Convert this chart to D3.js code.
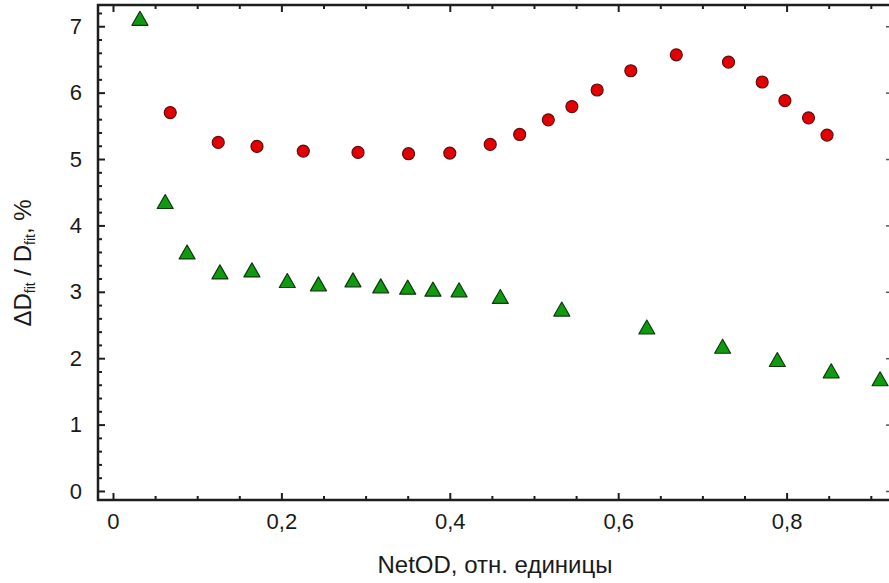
<!DOCTYPE html>
<html>
<head>
<meta charset="utf-8">
<script src="https://cdn.jsdelivr.net/npm/d3@7"></script>
<style>
  body { margin: 0; background: #fff; }
  text { font-family: "Liberation Sans", Arial, sans-serif; fill: #1a1a1a; }
</style>
</head>
<body>
<div id="chart"></div>
<script>
// red circles
var circleX = [0.068, 0.125, 0.171, 0.226, 0.291, 0.351, 0.400, 0.448, 0.483, 0.517, 0.545, 0.575, 0.615, 0.669, 0.731, 0.771, 0.798, 0.826, 0.848]
var circleY = [5.70, 5.25, 5.19, 5.12, 5.10, 5.08, 5.09, 5.22, 5.37, 5.59, 5.79, 6.04, 6.33, 6.57, 6.46, 6.16, 5.88, 5.62, 5.36]

// green triangles
var triX = [0.032, 0.062, 0.088, 0.127, 0.165, 0.207, 0.244, 0.285, 0.318, 0.350, 0.380, 0.411, 0.460, 0.533, 0.634, 0.724, 0.789, 0.853, 0.911]
var triY = [7.12, 4.36, 3.60, 3.30, 3.33, 3.17, 3.12, 3.18, 3.09, 3.07, 3.04, 3.03, 2.93, 2.74, 2.47, 2.18, 1.98, 1.81, 1.69]

var xTicks = [0, 0.2, 0.4, 0.6, 0.8]
var yTicks = [0, 1, 2, 3, 4, 5, 6, 7]
var xLabel = 'NetOD, отн. единицы'

var width = 889
var height = 583
var plot = {left: 98, right: 890, top: 5, bottom: 500}

var x = d3.scaleLinear().domain([-0.0178, 0.9228]).range([plot.left, plot.right])
var y = d3.scaleLinear().domain([-0.136, 7.32]).range([plot.bottom, plot.top])

var ru = d3.formatLocale({decimal: ',', thousands: ' ', grouping: [3], currency: ['', '']})
var fmt = function (d) { return d === 0 ? '0' : ru.format('.1f')(d) }

var svg = d3.select('#chart').append('svg')
    .attr('width', width)
    .attr('height', height)

var ink = '#1e1e1e'

// minor ticks
var xMinor = d3.range(0, 0.92, 0.05).filter(v => xTicks.indexOf(Math.round(v * 100) / 100) < 0)
var yMinor = d3.range(0, 7.3, 0.2).filter(v => Math.abs(v - Math.round(v)) > 0.01)

// bottom axis
svg.append('g')
    .attr('transform', 'translate(0,' + plot.bottom + ')')
    .call(d3.axisBottom(x).tickValues(xTicks).tickFormat(fmt).tickSizeInner(-7).tickSizeOuter(0).tickPadding(13))
    .call(g => g.select('.domain').remove())
    .call(g => g.selectAll('.tick line').attr('stroke', ink).attr('stroke-width', 2))
    .call(g => g.selectAll('.tick text').attr('font-size', 22).attr('fill', ink))
svg.append('g')
    .attr('transform', 'translate(0,' + plot.bottom + ')')
    .call(d3.axisBottom(x).tickValues(xMinor).tickFormat('').tickSizeInner(-4).tickSizeOuter(0))
    .call(g => g.select('.domain').remove())
    .call(g => g.selectAll('.tick line').attr('stroke', ink).attr('stroke-width', 2))

// top axis
svg.append('g')
    .attr('transform', 'translate(0,' + plot.top + ')')
    .call(d3.axisTop(x).tickValues(xTicks).tickFormat('').tickSizeInner(-7).tickSizeOuter(0))
    .call(g => g.select('.domain').remove())
    .call(g => g.selectAll('.tick line').attr('stroke', ink).attr('stroke-width', 2))
svg.append('g')
    .attr('transform', 'translate(0,' + plot.top + ')')
    .call(d3.axisTop(x).tickValues(xMinor).tickFormat('').tickSizeInner(-4).tickSizeOuter(0))
    .call(g => g.select('.domain').remove())
    .call(g => g.selectAll('.tick line').attr('stroke', ink).attr('stroke-width', 2))

// left axis
svg.append('g')
    .attr('transform', 'translate(' + plot.left + ',0)')
    .call(d3.axisLeft(y).tickValues(yTicks).tickFormat(d3.format('d')).tickSizeInner(-7).tickSizeOuter(0).tickPadding(16))
    .call(g => g.select('.domain').remove())
    .call(g => g.selectAll('.tick line').attr('stroke', ink).attr('stroke-width', 2))
    .call(g => g.selectAll('.tick text').attr('font-size', 22).attr('fill', ink))
svg.append('g')
    .attr('transform', 'translate(' + plot.left + ',0)')
    .call(d3.axisLeft(y).tickValues(yMinor).tickFormat('').tickSizeInner(-4).tickSizeOuter(0))
    .call(g => g.select('.domain').remove())
    .call(g => g.selectAll('.tick line').attr('stroke', ink).attr('stroke-width', 2))

// right axis (mostly cut off by the picture edge)
svg.append('g')
    .attr('transform', 'translate(' + (plot.right - 1) + ',0)')
    .call(d3.axisRight(y).tickValues(yTicks).tickFormat('').tickSizeInner(-3).tickSizeOuter(0))
    .call(g => g.select('.domain').remove())
    .call(g => g.selectAll('.tick line').attr('stroke', '#555').attr('stroke-width', 1.5))

// frame
svg.append('path')
    .attr('d', 'M' + plot.right + ',' + plot.top + 'H' + plot.left + 'V' + plot.bottom + 'H' + plot.right)
    .attr('fill', 'none')
    .attr('stroke', ink)
    .attr('stroke-width', 2.5)

// data
var circles = circleX.map((v, i) => ({x: v, y: circleY[i]}))
var triangles = triX.map((v, i) => ({x: v, y: triY[i]}))

svg.append('g').selectAll('circle')
    .data(circles)
  .enter().append('circle')
    .attr('cx', d => x(d.x))
    .attr('cy', d => y(d.y))
    .attr('r', 6)
    .attr('fill', '#e40000')
    .attr('stroke', '#5a1010')
    .attr('stroke-width', 1.2)

svg.append('g').selectAll('path')
    .data(triangles)
  .enter().append('path')
    .attr('transform', d => 'translate(' + x(d.x) + ',' + y(d.y) + ')')
    .attr('d', 'M0,-7L8,7L-8,7Z')
    .attr('fill', '#109a10')
    .attr('stroke', '#0c3a0c')
    .attr('stroke-width', 1.2)
    .attr('stroke-linejoin', 'round')

// axis titles
svg.append('text')
    .attr('x', 495)
    .attr('y', 573)
    .attr('text-anchor', 'middle')
    .attr('font-size', 24)
    .text(xLabel)

var yt = svg.append('text')
    .attr('transform', 'translate(31,263) rotate(-90)')
    .attr('text-anchor', 'middle')
    .attr('font-size', 24)
yt.append('tspan').text('ΔD')
yt.append('tspan').attr('font-size', 14).attr('dy', 4).text('fit')
yt.append('tspan').attr('dy', -4).text(' / D')
yt.append('tspan').attr('font-size', 14).attr('dy', 4).text('fit')
yt.append('tspan').attr('dy', -4).text(', %')
</script>
</body>
</html>
